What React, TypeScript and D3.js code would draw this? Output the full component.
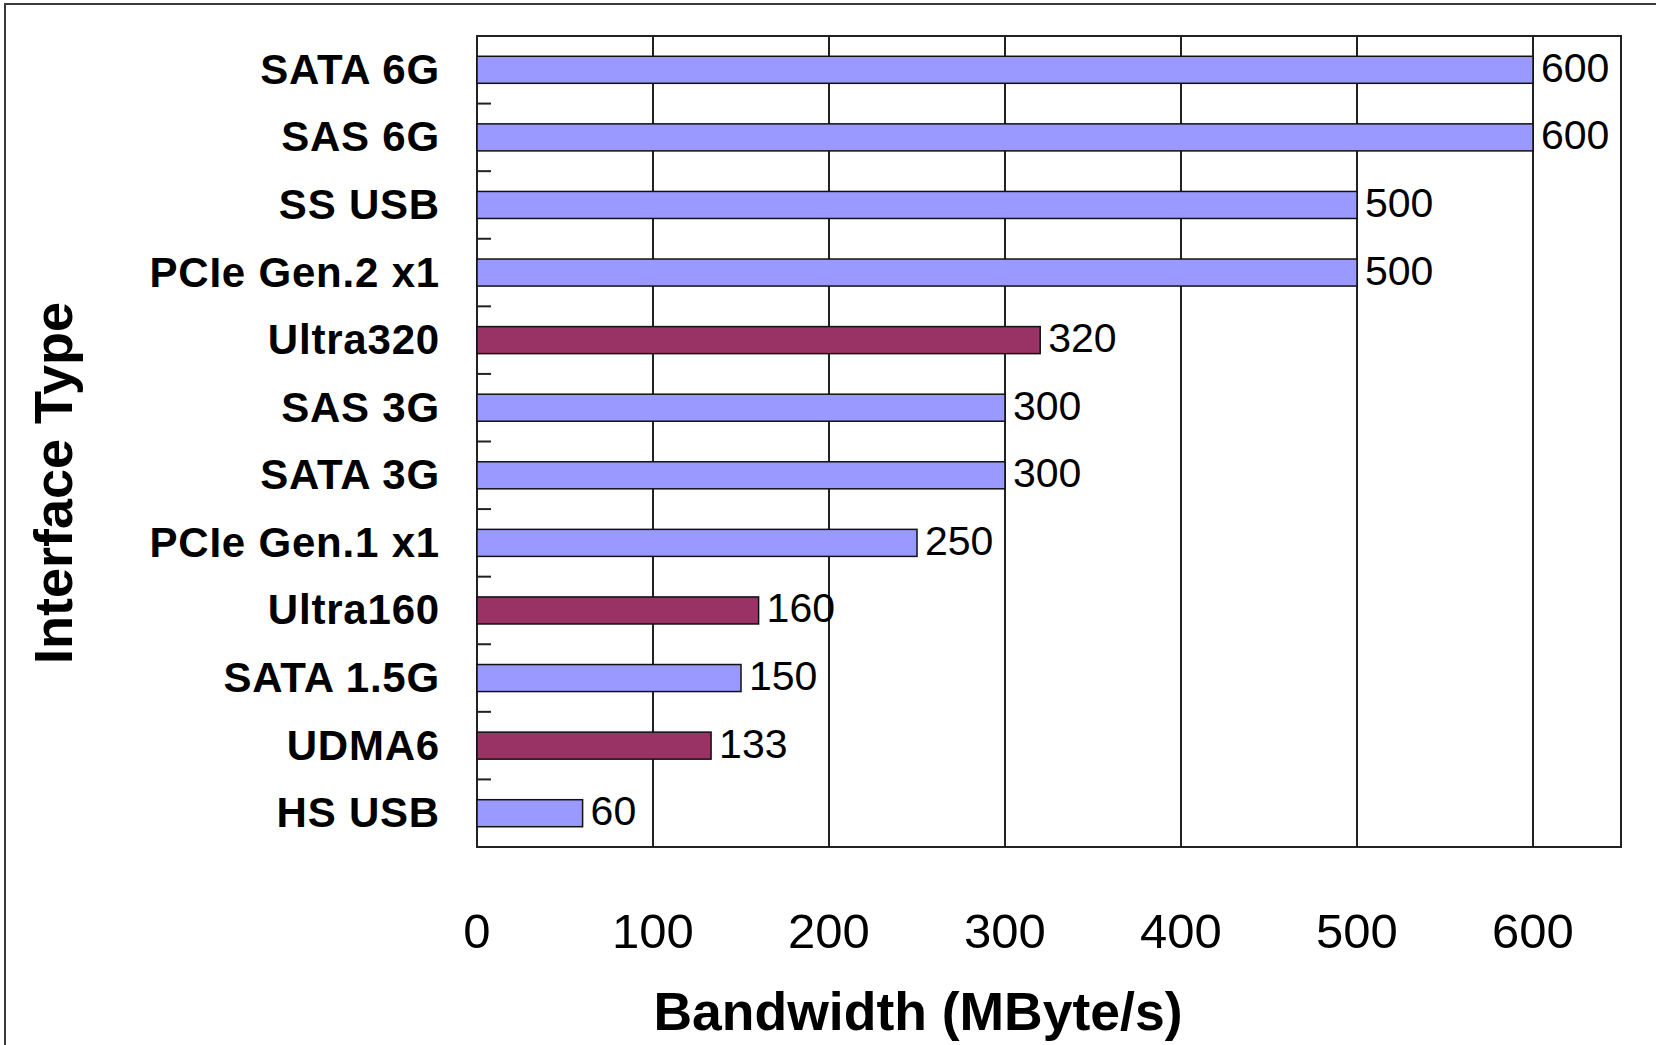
import React from "react";
import * as d3 from "d3";

const categories = [
  "SATA 6G",
  "SAS 6G",
  "SS USB",
  "PCIe Gen.2 x1",
  "Ultra320",
  "SAS 3G",
  "SATA 3G",
  "PCIe Gen.1 x1",
  "Ultra160",
  "SATA 1.5G",
  "UDMA6",
  "HS USB",
];
const bandwidth = [600, 600, 500, 500, 320, 300, 300, 250, 160, 150, 133, 60];
const busKind = [
  "serial", "serial", "serial", "serial", "parallel", "serial",
  "serial", "serial", "parallel", "serial", "parallel", "serial",
];
const xTicks = [0, 100, 200, 300, 400, 500, 600];
const kindColor: Record<string, string> = { serial: "#9999FF", parallel: "#993366" };

const W = 1656;
const H = 1045;
const M = { left: 477, right: 1621, top: 36, bottom: 847 };
const FONT = "'Liberation Sans', Arial, Helvetica, sans-serif";

export default function App() {
  const x = d3.scaleLinear().domain([0, 650]).range([M.left, M.right]);
  const y = d3
    .scaleBand<string>()
    .domain(categories)
    .range([M.top, M.bottom])
    .paddingInner(0.6)
    .paddingOuter(0.3);
  const step = y.step();
  const boundaries = d3.range(1, categories.length).map((k) => M.top + k * step);

  return (
    <svg
      width={W}
      height={H}
      style={{ position: "absolute", left: 0, top: 0, background: "#fff" }}
      fontFamily={FONT}
    >
      <rect x={0} y={0} width={W} height={H} fill="#fff" />
      {/* outer frame */}
      <rect x={5} y={4} width={W + 50} height={H + 50} fill="none" stroke="#3a3a3a" strokeWidth={2} />

      {/* grid lines */}
      {xTicks.slice(1).map((t) => (
        <line key={t} x1={x(t)} x2={x(t)} y1={M.top} y2={M.bottom} stroke="#222" strokeWidth={2} />
      ))}
      {/* plot border */}
      <rect
        x={M.left}
        y={M.top}
        width={M.right - M.left}
        height={M.bottom - M.top}
        fill="none"
        stroke="#222"
        strokeWidth={2}
      />
      {/* category tick marks (inside) */}
      {boundaries.map((b, i) => (
        <line key={i} x1={M.left} x2={M.left + 14} y1={b} y2={b} stroke="#222" strokeWidth={2} />
      ))}

      {/* bars */}
      {categories.map((c, i) => (
        <rect
          key={c}
          x={x(0)}
          y={y(c)}
          width={x(bandwidth[i]) - x(0)}
          height={y.bandwidth()}
          fill={kindColor[busKind[i]]}
          stroke="#111"
          strokeWidth={1.5}
        />
      ))}

      {/* value labels */}
      {categories.map((c, i) => (
        <text
          key={c}
          x={x(bandwidth[i]) + 8}
          y={(y(c) as number) + y.bandwidth() / 2 + 12}
          fontSize={41}
          fill="#000"
        >
          {bandwidth[i]}
        </text>
      ))}

      {/* category labels */}
      {categories.map((c) => (
        <text
          key={c}
          x={440}
          y={(y(c) as number) + y.bandwidth() / 2 + 14}
          fontSize={42}
          fontWeight="bold"
          letterSpacing={0.8}
          textAnchor="end"
          fill="#000"
        >
          {c}
        </text>
      ))}

      {/* x tick labels */}
      {xTicks.map((t) => (
        <text key={t} x={x(t)} y={948} fontSize={49} textAnchor="middle" fill="#000">
          {t}
        </text>
      ))}

      {/* axis titles */}
      <text x={918} y={1030} fontSize={53.5} fontWeight="bold" textAnchor="middle" fill="#000">
        Bandwidth (MByte/s)
      </text>
      <text
        transform={`translate(72, 483) rotate(-90)`}
        fontSize={54}
        fontWeight="bold"
        textAnchor="middle"
        fill="#000"
      >
        Interface Type
      </text>
    </svg>
  );
}
